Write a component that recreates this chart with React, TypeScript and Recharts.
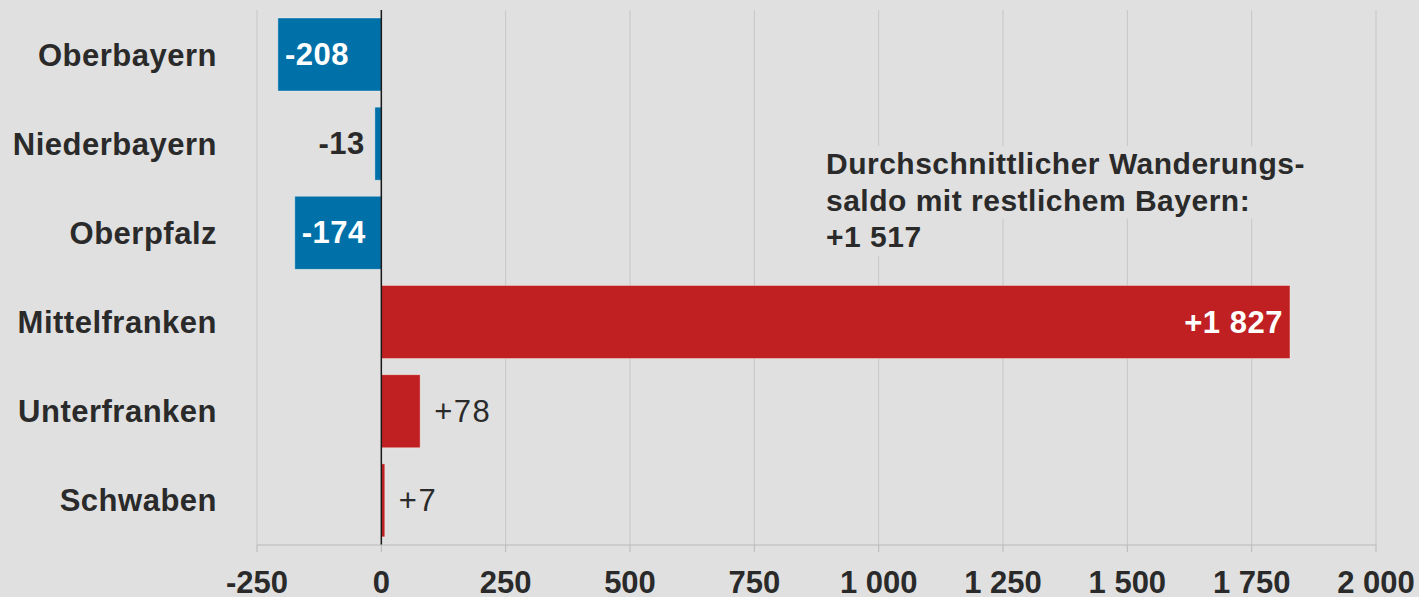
import { BarChart, Bar, XAxis, YAxis, CartesianGrid, Cell, LabelList, ReferenceLine } from 'recharts';

const regions = ['Oberbayern', 'Niederbayern', 'Oberpfalz', 'Mittelfranken', 'Unterfranken', 'Schwaben'];
const saldo = [-208, -13, -174, 1827, 78, 7];
const xTicks = [-250, 0, 250, 500, 750, 1000, 1250, 1500, 1750, 2000];
const noteLines = ['Durchschnittlicher Wanderungs-', 'saldo mit restlichem Bayern:', '+1 517'];

const BLUE = '#0070a8';
const RED = '#c02021';
const BG = '#e0e0e0';
const TEXT = '#2a2a2a';
const FONT = '"Liberation Sans", Arial, Helvetica, sans-serif';

const data = regions.map((name, i) => ({ name, value: saldo[i] }));

// thousands with a plain space, like "1 827"
const fmt = (v: number) => {
  const abs = Math.abs(v).toString().replace(/\B(?=(\d{3})+(?!\d))/g, ' ');
  return (v < 0 ? '-' : '') + abs;
};
const fmtSigned = (v: number) => (v > 0 ? '+' : '') + fmt(v);

const BarValue = (props: any) => {
  const { x, y, width, height, value } = props;
  const left = Math.min(x, x + width);
  const right = Math.max(x, x + width);
  const cy = y + height / 2;
  const inside = Math.abs(value) > 100;
  let tx: number;
  let anchor: 'start' | 'end';
  if (value < 0) {
    tx = inside ? left + 7 : left - 10;
    anchor = inside ? 'start' : 'end';
  } else {
    tx = inside ? right - 7 : right + 14;
    anchor = inside ? 'end' : 'start';
  }
  return (
    <text
      x={tx}
      y={cy}
      textAnchor={anchor}
      dominantBaseline="central"
      fill={inside ? '#ffffff' : TEXT}
      fontFamily={FONT}
      fontSize={31}
      letterSpacing={value > 0 && !inside ? 1.5 : 0.5}
      fontWeight={inside || value < 0 ? 700 : 400}
    >
      {fmtSigned(value)}
    </text>
  );
};

export default function App() {
  return (
    <div style={{ position: 'absolute', left: 0, top: 0, width: 1419, height: 597, background: BG, overflow: 'hidden' }}>
      <BarChart
        width={1419}
        height={597}
        data={data}
        layout="vertical"
        margin={{ top: 10, right: 43, bottom: 0, left: 0 }}
        barCategoryGap="9%"
      >
        <CartesianGrid horizontal={false} stroke="#c6c6c6" strokeWidth={1} />
        <XAxis
          type="number"
          domain={[-250, 2000]}
          ticks={xTicks}
          interval={0}
          height={52}
          tickFormatter={fmt}
          stroke="#b8b8b8"
          tickSize={7}
          tickMargin={19}
          tick={{ fill: TEXT, fontSize: 31, fontWeight: 700, fontFamily: FONT }}
        />
        <YAxis
          type="category"
          dataKey="name"
          width={257}
          axisLine={false}
          tickLine={false}
          tickSize={0}
          tickMargin={40}
          tick={{ fill: TEXT, fontSize: 31, fontWeight: 700, fontFamily: FONT, letterSpacing: 0.5 }}
        />
        <Bar dataKey="value" isAnimationActive={false} stroke="#ffffff" strokeOpacity={0.35} strokeWidth={1}>
          {data.map((d, i) => (
            <Cell key={`cell-${i}`} fill={d.value < 0 ? BLUE : RED} />
          ))}
          <LabelList dataKey="value" content={<BarValue />} />
        </Bar>
        <ReferenceLine x={0} stroke="#1a1a1a" strokeWidth={1.5} />
      </BarChart>
      <div style={{ position: 'absolute', left: 826, top: 146, fontFamily: FONT, fontSize: 30, fontWeight: 700, lineHeight: '36.5px', letterSpacing: 0.5, color: TEXT }}>
        {noteLines.map((line, i) => (
          <div key={i} style={{ width: 'fit-content', background: BG, paddingRight: 4 }}>
            {line}
          </div>
        ))}
      </div>
    </div>
  );
}
